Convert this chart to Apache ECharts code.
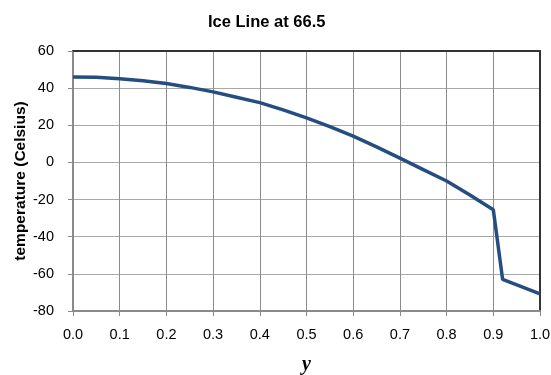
<!DOCTYPE html>
<html>
<head>
<meta charset="utf-8">
<script src="https://cdn.jsdelivr.net/npm/echarts@6/dist/echarts.min.js"></script>
<style>
html,body{margin:0;padding:0;background:#fff;}
#chart{width:551px;height:375px;}
</style>
</head>
<body>
<div id="chart"></div>
<script>
const titleText = "Ice Line at 66.5";
const xAxisTitle = "y";
const yAxisTitle = "temperature (Celsius)";
const yPositions = [0, 0.05, 0.1, 0.15, 0.2, 0.25, 0.3, 0.35, 0.4, 0.45, 0.5, 0.55, 0.6, 0.65, 0.7, 0.75, 0.8, 0.85, 0.9, 0.92, 1.0];
const temperatures = [46.0, 45.8, 45.1, 44.0, 42.5, 40.4, 38.0, 35.1, 32.2, 28.3, 24.0, 19.3, 14.2, 8.4, 2.3, -3.9, -10.0, -17.5, -25.5, -63.0, -70.8];
const xTicks = {min: 0, max: 1, interval: 0.1};
const yTicks = {min: -80, max: 60, interval: 20};

const seriesData = yPositions.map((x, i) => [x, temperatures[i]]);
const chart = echarts.init(document.getElementById('chart'));
const labelFont = {fontFamily: 'Liberation Sans', fontSize: 14.5, color: '#000'};
chart.setOption({
  animation: false,
  title: {
    text: titleText, left: 203, top: 9,
    textStyle: {fontFamily: 'Liberation Sans', fontWeight: 'bold', fontSize: 16.5, color: '#000'}
  },
  grid: {left: 73, right: 11, top: 51, bottom: 64, containLabel: false, outerBoundsMode: 'none'},
  xAxis: [{
    type: 'value', min: xTicks.min, max: xTicks.max, interval: xTicks.interval,
    name: xAxisTitle, nameLocation: 'middle', nameGap: 44,
    nameTextStyle: {fontFamily: 'Liberation Serif', fontWeight: 'bold', fontStyle: 'italic', fontSize: 20, color: '#000'},
    axisLine: {onZero: false, lineStyle: {color: '#8a8a8a', width: 2}},
    axisTick: {show: true, length: 5, lineStyle: {color: '#8a8a8a', width: 1}},
    axisLabel: Object.assign({margin: 16, formatter: v => v.toFixed(1)}, labelFont),
    splitLine: {show: true, lineStyle: {color: '#8c8c8c', width: 1}}
  }, {
    type: 'value', position: 'top', min: xTicks.min, max: xTicks.max,
    axisLine: {show: true, onZero: false, lineStyle: {color: '#333', width: 2}},
    axisTick: {show: false}, axisLabel: {show: false}, splitLine: {show: false}
  }],
  yAxis: [{
    type: 'value', min: yTicks.min, max: yTicks.max, interval: yTicks.interval,
    name: yAxisTitle, nameLocation: 'middle', nameGap: 44, nameRotate: 90, nameMoveOverlap: false,
    nameTextStyle: {fontFamily: 'Liberation Sans', fontWeight: 'bold', fontSize: 15.5, color: '#000'},
    axisLine: {show: true, onZero: false, lineStyle: {color: '#8a8a8a', width: 2}},
    axisTick: {show: true, length: 5, lineStyle: {color: '#8a8a8a', width: 1}},
    axisLabel: Object.assign({margin: 19}, labelFont),
    splitLine: {show: true, lineStyle: {color: '#a8a8a8', width: 1}}
  }, {
    type: 'value', position: 'right', min: yTicks.min, max: yTicks.max,
    axisLine: {show: true, onZero: false, lineStyle: {color: '#333', width: 2}},
    axisTick: {show: false}, axisLabel: {show: false}, splitLine: {show: false}
  }],
  series: [{
    type: 'line', data: seriesData, xAxisIndex: 0, yAxisIndex: 0,
    showSymbol: false, symbol: 'none',
    lineStyle: {color: '#254d80', width: 3.5}
  }]
});
</script>
</body>
</html>
